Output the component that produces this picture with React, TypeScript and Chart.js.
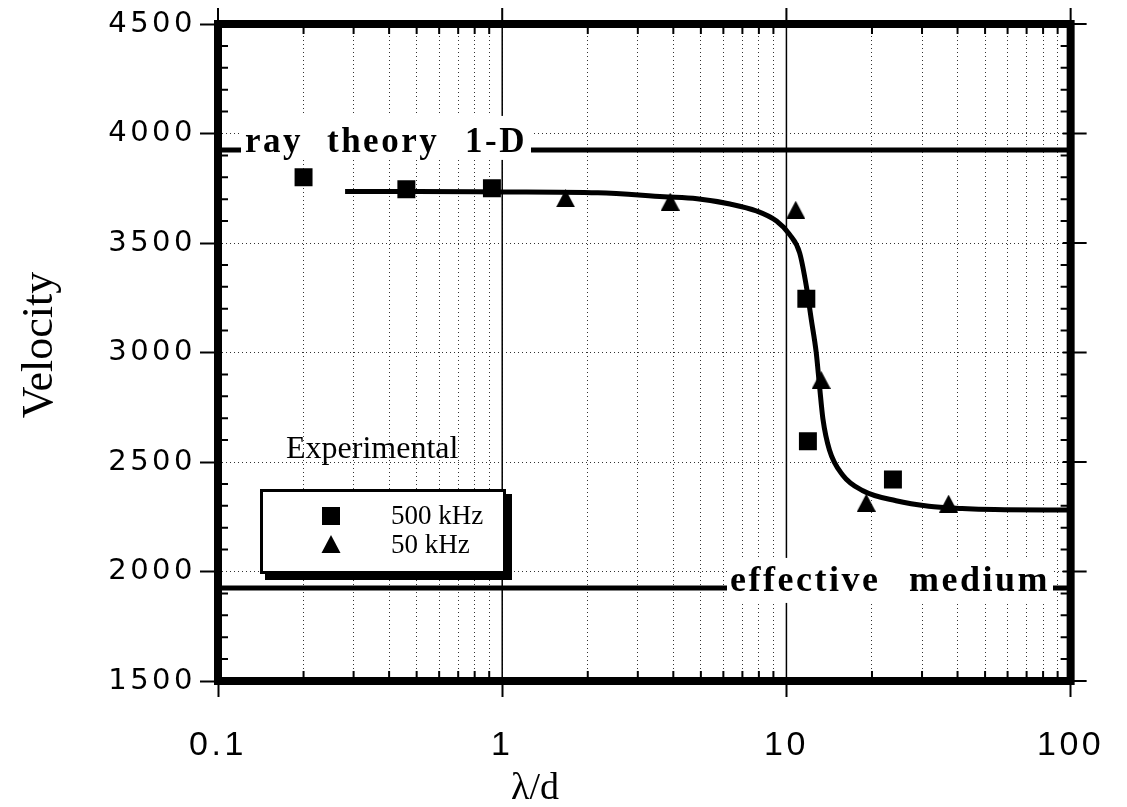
import { useEffect, useRef } from 'react';
import { Chart, registerables } from 'chart.js';

Chart.register(...registerables);

const W = 1127;
const H = 807;

// Axis ranges and tick labels
const X_MIN = 0.1;
const X_MAX = 100;
const X_DECADES = [0.1, 1, 10, 100];
const X_DECADE_LABELS = ['0.1', '1', '10', '100'];
const X_MULTIPLIERS = [1, 2, 3, 4, 5, 6, 7, 8, 9];
const Y_MIN = 1500;
const Y_MAX = 4500;
const Y_STEP = 500;
const Y_MINOR_STEP = 100;

// Fitted curve (λ/d, velocity)
const CURVE_X = [0.28, 0.5, 1, 2.17, 3.71, 4.85, 6.33, 7.85, 9.23, 10.27, 11.13, 11.75, 12.23, 12.73, 13.07, 13.44, 14.17, 15.79, 18.5, 24.3, 31.7, 41.5, 54, 100];
const CURVE_V = [3735, 3735, 3733, 3729, 3711, 3702, 3678, 3646, 3600, 3538, 3455, 3303, 3151, 3000, 2849, 2697, 2555, 2440, 2370, 2323, 2298, 2288, 2283, 2281];

// Experimental measurements
const KHZ500_X = [0.2, 0.46, 0.92, 11.75, 11.9, 23.7];
const KHZ500_V = [3800, 3745, 3750, 3245, 2595, 2420];
const KHZ50_X = [1.67, 3.9, 10.78, 13.25, 19.1, 37.2];
const KHZ50_V = [3704, 3689, 3652, 2875, 2314, 2310];

// Theoretical limits
const RAY_THEORY_V = 3925;
const EFFECTIVE_MEDIUM_V = 1925;

// Text
const Y_TITLE = 'Velocity';
const X_TITLE = 'λ/d';
const LEGEND_TITLE = 'Experimental';
const SERIES_500_LABEL = '500 kHz';
const SERIES_50_LABEL = '50 kHz';
const RAY_WORDS = ['ray', 'theory', '1-D'];
const EFF_WORDS = ['effective', 'medium'];

const X_GRID_VALUES: number[] = [];
for (const d of X_DECADES.slice(0, 3)) {
  for (const m of X_MULTIPLIERS) X_GRID_VALUES.push(Number((d * m).toFixed(4)));
}
X_GRID_VALUES.push(X_MAX);

const SERIF = '"Liberation Serif", "Times New Roman", serif';

const decor = {
  id: 'decor',
  beforeDraw(chart: any) {
    chart.ctx.letterSpacing = '3.5px';
  },
  beforeDatasetsDraw(chart: any) {
    const { ctx, chartArea: a, scales } = chart;
    const x = scales.x;
    ctx.save();
    ctx.strokeStyle = '#000';
    ctx.lineWidth = 1.5;
    for (const v of X_DECADES) {
      const px = x.getPixelForValue(v);
      if (px > a.left + 2 && px < a.right - 2) {
        ctx.beginPath();
        ctx.moveTo(px, a.top);
        ctx.lineTo(px, a.bottom);
        ctx.stroke();
      }
    }
    ctx.restore();
  },
  afterDatasetsDraw(chart: any) {
    const { ctx, chartArea: a, scales } = chart;
    const x = scales.x;
    const y = scales.y;
    ctx.save();
    ctx.fillStyle = '#000';
    ctx.strokeStyle = '#000';

    // labels sitting on the two limit lines
    const rayY = y.getPixelForValue(RAY_THEORY_V);
    const effY = y.getPixelForValue(EFFECTIVE_MEDIUM_V);
    ctx.fillStyle = '#fff';
    ctx.fillRect(241, rayY - 34, 290, 44);
    ctx.fillRect(727, effY - 30, 326, 45);
    ctx.fillStyle = '#000';
    ctx.textAlign = 'left';
    ctx.textBaseline = 'alphabetic';
    ctx.letterSpacing = '2.5px';
    ctx.font = `bold 35px ${SERIF}`;
    const rayXs = [245, 327, 465];
    RAY_WORDS.forEach((w, i) => ctx.fillText(w, rayXs[i], rayY + 2));
    ctx.font = `bold 36px ${SERIF}`;
    const effXs = [730, 909];
    EFF_WORDS.forEach((w, i) => ctx.fillText(w, effXs[i], effY + 3));

    // legend
    ctx.letterSpacing = '0px';
    ctx.font = `32px ${SERIF}`;
    ctx.fillText(LEGEND_TITLE, 286, 458);
    ctx.fillRect(265, 494, 247, 86);
    ctx.fillStyle = '#fff';
    ctx.fillRect(260, 489, 246, 85);
    ctx.lineWidth = 3;
    ctx.strokeRect(261.5, 490.5, 243, 82);
    ctx.fillStyle = '#000';
    ctx.fillRect(322, 507, 18, 18);
    ctx.beginPath();
    ctx.moveTo(331, 535);
    ctx.lineTo(340.5, 553);
    ctx.lineTo(321.5, 553);
    ctx.closePath();
    ctx.fill();
    ctx.font = `27px ${SERIF}`;
    ctx.fillText(SERIES_500_LABEL, 391, 524);
    ctx.fillText(SERIES_50_LABEL, 391, 553);

    // minor ticks inside the frame
    ctx.lineWidth = 2;
    ctx.beginPath();
    for (let v = Y_MIN + Y_MINOR_STEP; v < Y_MAX; v += Y_MINOR_STEP) {
      if (v % Y_STEP === 0) continue;
      const py = y.getPixelForValue(v);
      ctx.moveTo(a.left, py);
      ctx.lineTo(a.left + 10, py);
      ctx.moveTo(a.right, py);
      ctx.lineTo(a.right - 10, py);
    }
    for (const v of X_GRID_VALUES) {
      if (X_DECADES.includes(v)) continue;
      const px = x.getPixelForValue(v);
      ctx.moveTo(px, a.bottom);
      ctx.lineTo(px, a.bottom - 10);
      ctx.moveTo(px, a.top);
      ctx.lineTo(px, a.top + 10);
    }
    // major ticks on the top and right sides
    for (const v of X_DECADES) {
      const px = x.getPixelForValue(v);
      ctx.moveTo(px, a.top);
      ctx.lineTo(px, a.top - 16);
    }
    for (let v = Y_MIN; v <= Y_MAX; v += Y_STEP) {
      const py = y.getPixelForValue(v);
      ctx.moveTo(a.right - 8, py);
      ctx.lineTo(a.right + 16, py);
    }
    ctx.stroke();

    // heavy frame
    ctx.lineWidth = 8;
    ctx.lineJoin = 'miter';
    ctx.strokeRect(a.left, a.top, a.right - a.left, a.bottom - a.top);

    // axis titles
    ctx.font = `44px ${SERIF}`;
    ctx.textAlign = 'center';
    ctx.textBaseline = 'alphabetic';
    ctx.save();
    ctx.translate(52, 345);
    ctx.rotate(-Math.PI / 2);
    ctx.fillText(Y_TITLE, 0, 0);
    ctx.restore();
    ctx.font = `38px ${SERIF}`;
    ctx.fillText(X_TITLE, 535, 799);
    ctx.restore();
  },
};

export default function App() {
  const ref = useRef<HTMLCanvasElement>(null);

  useEffect(() => {
    const canvas = ref.current;
    if (!canvas) return;

    const tri = document.createElement('canvas');
    tri.width = 19;
    tri.height = 18;
    const t = tri.getContext('2d')!;
    t.fillStyle = '#000';
    t.beginPath();
    t.moveTo(9.5, 0);
    t.lineTo(19, 18);
    t.lineTo(0, 18);
    t.closePath();
    t.fill();

    const chart = new Chart(canvas, {
      type: 'scatter',
      data: {
        datasets: [
          {
            label: 'fit',
            data: CURVE_X.map((v, i) => ({ x: v, y: CURVE_V[i] })),
            showLine: true,
            borderColor: '#000',
            borderWidth: 5,
            pointRadius: 0,
            cubicInterpolationMode: 'monotone',
          },
          {
            label: 'ray theory 1-D',
            data: [{ x: X_MIN, y: RAY_THEORY_V }, { x: X_MAX, y: RAY_THEORY_V }],
            showLine: true,
            borderColor: '#000',
            borderWidth: 5,
            pointRadius: 0,
          },
          {
            label: 'effective medium',
            data: [{ x: X_MIN, y: EFFECTIVE_MEDIUM_V }, { x: X_MAX, y: EFFECTIVE_MEDIUM_V }],
            showLine: true,
            borderColor: '#000',
            borderWidth: 5,
            pointRadius: 0,
          },
          {
            label: SERIES_500_LABEL,
            data: KHZ500_X.map((v, i) => ({ x: v, y: KHZ500_V[i] })),
            pointStyle: 'rect',
            pointRadius: 12.7,
            pointBorderWidth: 0,
            backgroundColor: '#000',
            borderColor: '#000',
          },
          {
            label: SERIES_50_LABEL,
            data: KHZ50_X.map((v, i) => ({ x: v, y: KHZ50_V[i] })),
            pointStyle: tri,
            pointRadius: 10,
            pointBorderWidth: 0,
            backgroundColor: '#000',
            borderColor: '#000',
          },
        ] as any,
      },
      options: {
        responsive: false,
        animation: false,
        devicePixelRatio: 1,
        events: [],
        layout: { padding: { left: 0, top: 24, right: 52, bottom: 0 } },
        plugins: { legend: { display: false }, tooltip: { enabled: false } },
        scales: {
          x: {
            type: 'logarithmic',
            min: X_MIN,
            max: X_MAX,
            afterBuildTicks: (scale: any) => {
              scale.ticks = X_GRID_VALUES.map((v) => ({ value: v, major: X_DECADES.includes(v) }));
            },
            afterFit: (scale: any) => {
              scale.height = 126;
            },
            ticks: {
              autoSkip: false,
              maxRotation: 0,
              minRotation: 0,
              padding: 28,
              color: '#000',
              font: { family: '"Liberation Sans", Arial, sans-serif', size: 34 },
              callback: (value: any) => {
                const i = X_DECADES.indexOf(Number(value));
                return i >= 0 ? X_DECADE_LABELS[i] : '';
              },
            },
            grid: {
              color: 'rgba(0,0,0,0.8)',
              lineWidth: 1,
              tickLength: 16,
              tickColor: '#000',
              tickWidth: (c: any) => (c.tick && c.tick.major ? 2 : 0),
            },
            border: { display: false, dash: [1, 3] },
          },
          y: {
            type: 'linear',
            min: Y_MIN,
            max: Y_MAX,
            afterFit: (scale: any) => {
              scale.width = 218;
            },
            ticks: {
              stepSize: Y_STEP,
              padding: 4,
              color: '#000',
              font: { family: '"DejaVu Sans", sans-serif', size: 29 },
              callback: (value: any) => String(value),
            },
            grid: {
              color: 'rgba(0,0,0,0.8)',
              lineWidth: 1,
              tickLength: 18,
              tickColor: '#000',
              tickWidth: 2,
            },
            border: { display: false, dash: [1, 3] },
          },
        },
      },
      plugins: [decor],
    } as any);

    return () => chart.destroy();
  }, []);

  return (
    <div style={{ position: 'fixed', left: 0, top: 0, width: W, height: H, background: '#fff' }}>
      <canvas ref={ref} width={W} height={H} style={{ display: 'block', width: W, height: H }} />
    </div>
  );
}
